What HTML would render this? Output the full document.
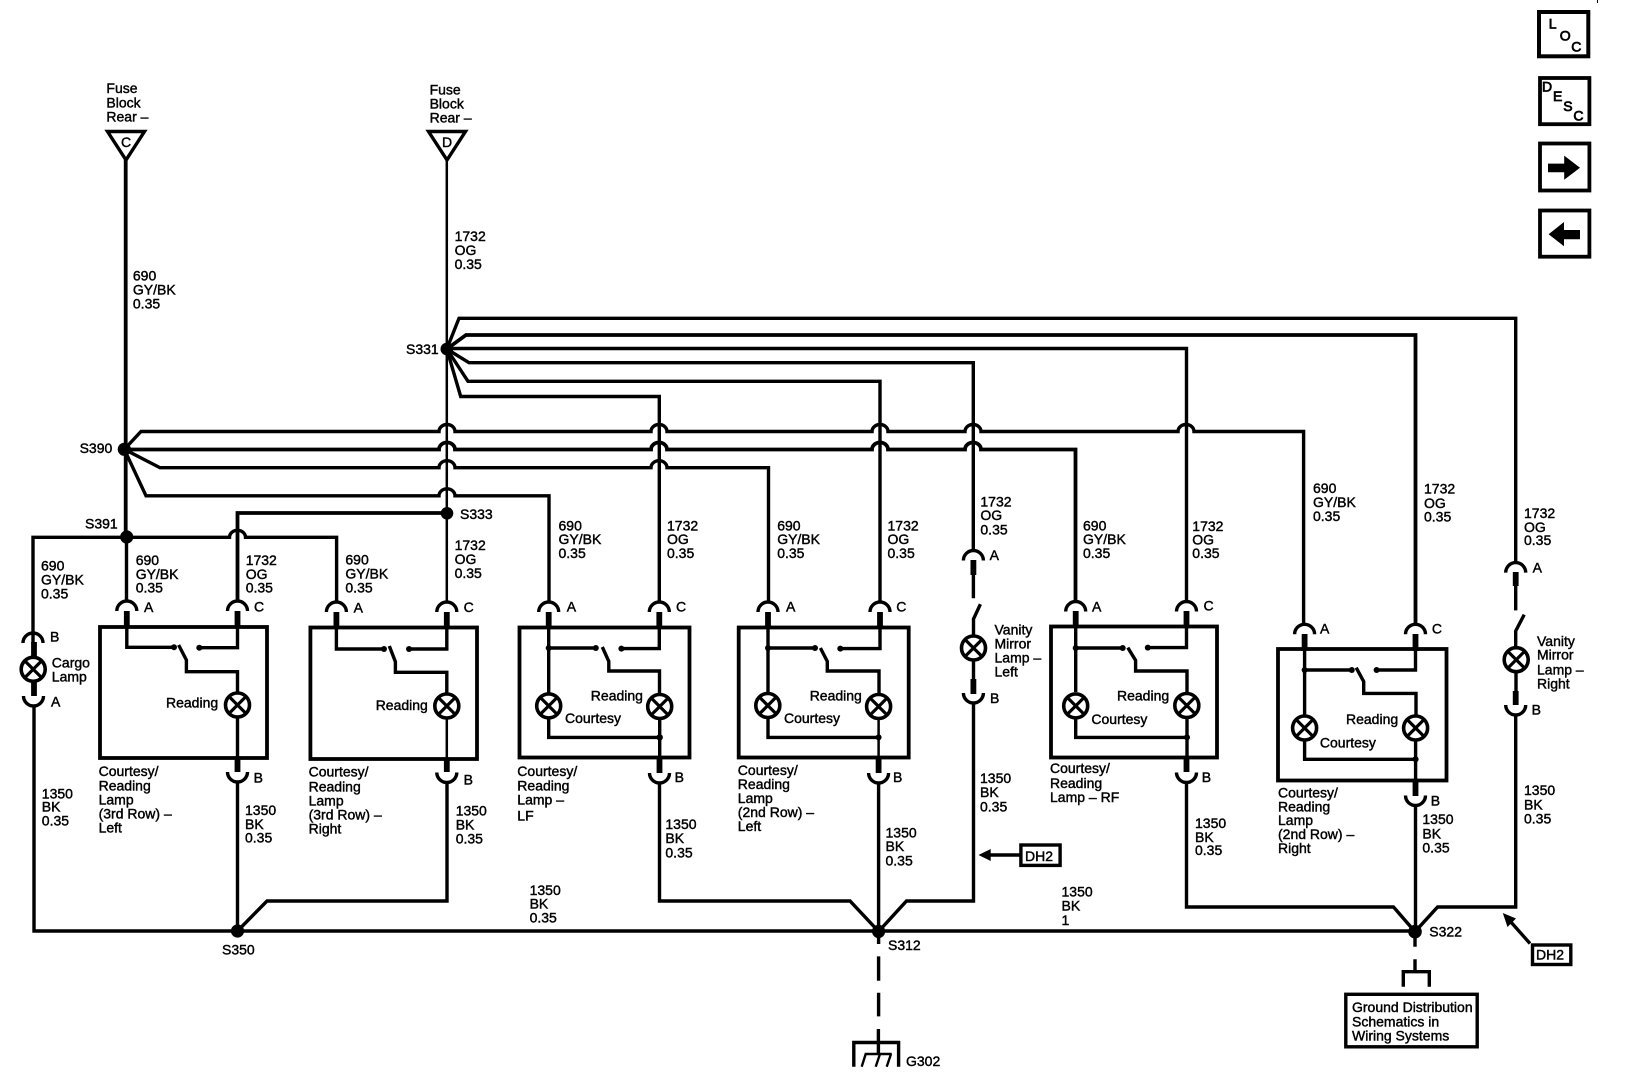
<!DOCTYPE html>
<html lang="en"><head><meta charset="utf-8"><title>Courtesy Lamp Schematic</title>
<style>
html,body{margin:0;padding:0;background:#fff}
svg{display:block}
text{font-family:"Liberation Sans",Arial,sans-serif;font-size:14px;fill:#000;stroke:#000;stroke-width:.42}
text.n{stroke-width:.75}
.w{fill:none;stroke:#000;stroke-width:3.4;stroke-linejoin:miter}
.t{fill:none;stroke:#000;stroke-width:2.5}
.k{fill:none;stroke:#000;stroke-width:5.8}
.b{fill:none;stroke:#000;stroke-width:3.8}
.d{fill:#000}
</style></head><body>
<svg xmlns="http://www.w3.org/2000/svg" width="1632" height="1084" viewBox="0 0 1632 1084">
<defs>
<g id="l"><circle r="12" fill="#fff" stroke="#000" stroke-width="3.6"/><path d="M-8.5-8.5L8.5 8.5M8.5-8.5L-8.5 8.5" stroke="#000" stroke-width="3.2" fill="none"/></g>
<path id="a" d="M-10 10A10 10 0 0 1 10 10" fill="none" stroke="#000" stroke-width="3.4"/>
<path id="u" d="M-10 0A10 10 0 0 0 10 0" fill="none" stroke="#000" stroke-width="3.4"/>
</defs>

<!-- Fuse triangles -->
<path class="w" d="M107.5 131.5H144.5L126 160ZM428.5 131.5H465.5L447 160Z"/>
<text x="106.4" y="93">Fuse</text><text x="106.4" y="107.5">Block</text><text x="106.4" y="121.7">Rear –</text>
<text x="429.6" y="94.3">Fuse</text><text x="429.6" y="108.5">Block</text><text x="429.6" y="122.7">Rear –</text>
<text x="121" y="147">C</text><text x="442" y="147">D</text>

<!-- main feeds -->
<path class="b" d="M125.7 160V537"/>
<path class="t" d="M446.8 160V602"/>
<text x="132.9" y="280.7">690</text><text x="132.9" y="294.3">GY/BK</text><text x="132.9" y="308.3">0.35</text>
<text x="454.6" y="241">1732</text><text x="454.6" y="255">OG</text><text x="454.6" y="269">0.35</text>

<!-- S331 branches -->
<path class="w" d="M446.8 349L459 318.3H1515.7V562.6"/>
<path class="b" d="M446.8 349L466 335H1415.5V624"/>
<path class="w" d="M446.8 348.5H1186.5V601.8"/>
<path class="w" d="M446.8 349L469 362.7H973.3V550.4"/>
<path class="w" d="M446.8 349L468 381.3H880V602"/>
<path class="w" d="M446.8 349L460.7 396.5H659.3V602"/>
<circle class="d" cx="446.8" cy="349" r="6.3"/>
<text x="406" y="354">S331</text>

<!-- S390 branches with hops -->
<path class="w" d="M124.3 449.3L141 431.5H439A8 7 0 0 1 455 431.5H651A8 7 0 0 1 667 431.5H872A8 7 0 0 1 888 431.5H965A8 7 0 0 1 981 431.5H1178A8 7 0 0 1 1194 431.5H1303.6V624"/>
<path class="b" d="M124.3 449.5H439A8 7 0 0 1 455 449.5H651A8 7 0 0 1 667 449.5H872A8 7 0 0 1 888 449.5H965A8 7 0 0 1 981 449.5H1075.5V602"/>
<path class="w" d="M124.3 449.3L160 467.7H439A8 7 0 0 1 455 467.7H651A8 7 0 0 1 667 467.7H768.5V602"/>
<path class="w" d="M124.3 449.3L146 495.8H439A8 7 0 0 1 455 495.8H549V602"/>
<circle class="d" cx="124.3" cy="449.3" r="6.6"/>
<text x="79.6" y="453">S390</text>

<!-- S333 / S391 -->
<path class="b" d="M447 513H237.5V601"/>
<circle class="d" cx="447" cy="513.3" r="6.3"/>
<text x="460" y="519">S333</text>
<path class="w" d="M33 645V537.3H229.5A8 7 0 0 1 245.5 537.3H336.6V602"/>
<path class="w" d="M126.5 537V601"/>
<circle class="d" cx="126.7" cy="537" r="6.6"/>
<text x="85" y="528.3">S391</text>

<!-- Cargo lamp -->
<use href="#a" x="33" y="633"/>
<path class="k" d="M34 642V657M34 682V696"/>
<use href="#l" x="33.2" y="669.3"/>
<use href="#u" x="33.5" y="696"/>
<text x="50" y="641.7">B</text><text x="51" y="706.7">A</text>
<text x="51.8" y="667.7">Cargo</text><text x="51.8" y="681.7">Lamp</text>
<text x="41" y="570.7">690</text><text x="41" y="584.3">GY/BK</text><text x="41" y="598.3">0.35</text>
<text x="41.8" y="798.3">1350</text><text x="41.8" y="811.7">BK</text><text x="41.8" y="825.7">0.35</text>

<!-- Ground bus -->
<path class="w" d="M34 705V931H1415"/>
<circle class="d" cx="237.5" cy="931" r="6.6"/>
<text x="222" y="954.3">S350</text>
<path class="w" d="M237.5 931L267 901H447V783"/>
<path class="w" d="M237.5 782V931"/>
<text x="529.6" y="895">1350</text><text x="529.6" y="908.3">BK</text><text x="529.6" y="922.7">0.35</text>
<text x="1061.5" y="896.7">1350</text><text x="1061.5" y="910.6">BK</text><text x="1061.5" y="925">1</text>

<!-- Box 1 -->
<rect class="b" x="100" y="627" width="167" height="131"/>
<use href="#a" x="126.8" y="601"/><use href="#a" x="237.5" y="601"/>
<path class="k" d="M126.8 611V628M237.5 611V628M237.5 757V772"/>
<path class="w" d="M126.8 628V647.3H174M199.3 647.7H237.5V628M178.6 645L186.4 660V671.7H237.5V692M237.5 718V760"/>
<circle class="d" cx="174" cy="647.3" r="3"/><circle class="d" cx="199.3" cy="647.7" r="3"/>
<use href="#l" x="237.5" y="705"/><use href="#u" x="237.5" y="772"/>
<text x="144" y="612">A</text><text x="254" y="611.3">C</text><text x="253.6" y="782.7">B</text>
<text x="166" y="707.7">Reading</text>
<text x="135.7" y="565">690</text><text x="135.7" y="579">GY/BK</text><text x="135.7" y="592.7">0.35</text>
<text x="245.7" y="565">1732</text><text x="245.7" y="579">OG</text><text x="245.7" y="592.7">0.35</text>
<text x="98.6" y="776">Courtesy/</text><text x="98.6" y="790.7">Reading</text><text x="98.6" y="804.3">Lamp</text><text x="98.6" y="818.3">(3rd Row) –</text><text x="98.6" y="832.7">Left</text>
<text x="245" y="815">1350</text><text x="245" y="829">BK</text><text x="245" y="842.7">0.35</text>

<!-- Box 2 -->
<rect class="b" x="310.4" y="627.5" width="166.6" height="131.5"/>
<use href="#a" x="336.4" y="602"/><use href="#a" x="446.8" y="602"/>
<path class="k" d="M336.4 612V629M446.8 612V629M446.8 758V772"/>
<path class="w" d="M336.4 629V649H384M409 649H446.8V629M389.3 646L395.4 661.7V672.3H446.8V693"/>
<path class="t" d="M446.8 719V760"/>
<circle class="d" cx="384" cy="649" r="3"/><circle class="d" cx="409" cy="649" r="3"/>
<use href="#l" x="446.8" y="706"/><use href="#u" x="446.8" y="772.5"/>
<text x="353.6" y="612.7">A</text><text x="463.6" y="612">C</text><text x="463.6" y="784.3">B</text>
<text x="375.7" y="710">Reading</text>
<text x="345.4" y="564.7">690</text><text x="345.4" y="578.3">GY/BK</text><text x="345.4" y="592.7">0.35</text>
<text x="454.6" y="550">1732</text><text x="454.6" y="564">OG</text><text x="454.6" y="578">0.35</text>
<text x="308.6" y="776.7">Courtesy/</text><text x="308.6" y="791.7">Reading</text><text x="308.6" y="805.7">Lamp</text><text x="308.6" y="819.3">(3rd Row) –</text><text x="308.6" y="833.3">Right</text>
<text x="455.7" y="815.7">1350</text><text x="455.7" y="829.3">BK</text><text x="455.7" y="843.3">0.35</text>

<!-- Box 3 (LF) -->
<rect class="b" x="519.5" y="627.5" width="170" height="130"/>
<use href="#a" x="548.7" y="602"/><use href="#a" x="659.3" y="602"/>
<path class="k" d="M548.7 612V629M659.3 612V629M659.5 757V773"/>
<path class="w" d="M548.7 629V693M548.7 648H595.8M621.4 648.6H659.3V629M602.3 647L608.8 661.4V671H659.5V693M548.7 719V737.4H659.7M659.7 719V760"/>
<circle class="d" cx="548.7" cy="648" r="3"/><circle class="d" cx="595.8" cy="648" r="3"/><circle class="d" cx="621.4" cy="648.6" r="3"/><circle class="d" cx="659.7" cy="737.4" r="3.2"/>
<use href="#l" x="548.7" y="705.9"/><use href="#l" x="659.7" y="706.5"/><use href="#u" x="659.5" y="773"/>
<text x="566.7" y="611.5">A</text><text x="676" y="611.5">C</text><text x="674.6" y="782.2">B</text>
<text x="590.8" y="700.7">Reading</text><text x="565" y="723.2">Courtesy</text>
<text x="558.5" y="530.7">690</text><text x="558.5" y="544">GY/BK</text><text x="558.5" y="558">0.35</text>
<text x="667" y="530.7">1732</text><text x="667" y="544">OG</text><text x="667" y="558">0.35</text>
<text x="517.3" y="776">Courtesy/</text><text x="517.3" y="790.5">Reading</text><text x="517.3" y="804.7">Lamp –</text><text x="517.3" y="820.4">LF</text>
<text x="665.4" y="829">1350</text><text x="665.4" y="843">BK</text><text x="665.4" y="857.5">0.35</text>
<path class="w" d="M659.5 783V901H850L878.6 931.4"/>

<!-- Box 4 -->
<rect class="b" x="738.7" y="627.5" width="170" height="130"/>
<use href="#a" x="768" y="602"/><use href="#a" x="880" y="602"/>
<path class="k" d="M768 612V629M880 612V629M878.6 757V773"/>
<path class="w" d="M768 629V692M768 648H815M840.3 648.6H880V629M820.4 648L827.3 661.4V671H879V693"/>
<path class="w" d="M768 719V737.4H878.6"/><path class="t" d="M878.6 719V760"/>
<circle class="d" cx="768" cy="648" r="3"/><circle class="d" cx="815" cy="648" r="3"/><circle class="d" cx="840.3" cy="648.6" r="3"/><circle class="d" cx="878.6" cy="737.4" r="3"/>
<use href="#l" x="767.8" y="705.5"/><use href="#l" x="878.6" y="706.5"/><use href="#u" x="878.6" y="773"/>
<text x="786" y="611.5">A</text><text x="896.2" y="611.5">C</text><text x="893" y="782">B</text>
<text x="809.7" y="700.7">Reading</text><text x="784" y="723">Courtesy</text>
<text x="777.2" y="530.7">690</text><text x="777.2" y="544">GY/BK</text><text x="777.2" y="558">0.35</text>
<text x="887.5" y="530.7">1732</text><text x="887.5" y="544">OG</text><text x="887.5" y="558">0.35</text>
<text x="737.8" y="775">Courtesy/</text><text x="737.8" y="789">Reading</text><text x="737.8" y="803">Lamp</text><text x="737.8" y="817">(2nd Row) –</text><text x="737.8" y="830.8">Left</text>
<text x="885.5" y="837.7">1350</text><text x="885.5" y="851.2">BK</text><text x="885.5" y="865.5">0.35</text>
<path class="w" d="M878.6 783V931"/>

<!-- S312 -->
<circle class="d" cx="878.6" cy="931.4" r="6.6"/>
<text x="888" y="950">S312</text>
<path class="w" d="M878.6 931V944M878.6 956.4V980.7M878.6 992.8V1016.4M878.4 1029V1054"/>
<path class="w" d="M853.8 1066.7V1042.5H898.6V1066.7"/>
<path fill="none" stroke="#000" stroke-width="2.4" d="M861.7 1066.7L865.7 1054H891.7M875.7 1066.7L880 1054M886.7 1066.7L891 1054"/>
<text x="906" y="1066">G302</text>

<!-- Vanity left -->
<use href="#a" x="973.4" y="550.5"/>
<path class="k" d="M973.4 560V575M973.4 679V694"/>
<path class="w" d="M973.4 575V598.3M980.4 604.2L973.5 619V636M973.5 660V680M973.5 703V901H906.5L878.6 931.4"/>
<use href="#l" x="973.5" y="648"/><use href="#u" x="973.4" y="693"/>
<text x="989.6" y="560">A</text><text x="990" y="703">B</text>
<text x="994.5" y="634.7">Vanity</text><text x="994.5" y="648.6">Mirror</text><text x="994.5" y="662.5">Lamp –</text><text x="994.5" y="676.4">Left</text>
<text x="980.4" y="506.7">1732</text><text x="980.4" y="520">OG</text><text x="980.4" y="534.3">0.35</text>
<text x="980" y="782.9">1350</text><text x="980" y="796.8">BK</text><text x="980" y="811.3">0.35</text>
<rect class="w" x="1020.9" y="845" width="39.2" height="20.4"/>
<text x="1025" y="861">DH2</text>
<path class="w" d="M1020 855H988"/><path class="d" d="M978.5 855L990.7 849V861Z"/>

<!-- Box 5 (RF) -->
<rect class="b" x="1051" y="626.5" width="166" height="131"/>
<use href="#a" x="1075.7" y="601.5"/><use href="#a" x="1186.5" y="601.5"/>
<path class="k" d="M1075.7 611V628M1186.5 611V628M1186.5 757V772"/>
<path class="w" d="M1075.7 628V692M1075.7 648H1122.7M1147.8 647.6H1186.5V628M1127.8 647.6L1135.6 660.4V671H1187V692M1075.7 719V737.4H1187M1187 719V760"/>
<circle class="d" cx="1075.7" cy="648" r="3"/><circle class="d" cx="1122.7" cy="648" r="3"/><circle class="d" cx="1147.8" cy="647.6" r="3"/><circle class="d" cx="1187" cy="737.4" r="3"/>
<use href="#l" x="1075.7" y="705.9"/><use href="#l" x="1186.8" y="705.5"/><use href="#u" x="1186.5" y="772.5"/>
<text x="1092" y="611.5">A</text><text x="1203.5" y="610.4">C</text><text x="1201.8" y="782">B</text>
<text x="1117" y="700.7">Reading</text><text x="1091.4" y="724">Courtesy</text>
<text x="1083" y="530.7">690</text><text x="1083" y="544">GY/BK</text><text x="1083" y="558">0.35</text>
<text x="1192.3" y="531">1732</text><text x="1192.3" y="544.5">OG</text><text x="1192.3" y="558">0.35</text>
<text x="1050" y="773.2">Courtesy/</text><text x="1050" y="788">Reading</text><text x="1050" y="802">Lamp – RF</text>
<text x="1195" y="828">1350</text><text x="1195" y="841.9">BK</text><text x="1195" y="855">0.35</text>
<path class="w" d="M1186.5 782V907H1393.5L1415 931.7"/>

<!-- Box 6 -->
<rect class="b" x="1278" y="649" width="168.5" height="131.5"/>
<use href="#a" x="1304.6" y="624.3"/><use href="#a" x="1415.5" y="624.3"/>
<path class="k" d="M1304.6 634V651M1415.5 634V651M1415.5 780V796"/>
<path class="w" d="M1304.6 651V715M1304.6 670H1351.8M1376.6 670H1415.5V651M1356.2 667.7L1363.7 681.6V693.4H1416V715M1304.6 741V759.3H1415.6M1415.6 741V782"/>
<circle class="d" cx="1304.6" cy="670" r="3"/><circle class="d" cx="1351.8" cy="670" r="3"/><circle class="d" cx="1376.6" cy="670" r="3"/><circle class="d" cx="1415.6" cy="759.3" r="3"/>
<use href="#l" x="1304.6" y="728"/><use href="#l" x="1415.6" y="728"/><use href="#u" x="1415.5" y="795.5"/>
<text x="1320" y="633.7">A</text><text x="1431.9" y="633.7">C</text><text x="1430.8" y="805.4">B</text>
<text x="1346" y="723.9">Reading</text><text x="1319.9" y="747.5">Courtesy</text>
<text x="1313" y="493">690</text><text x="1313" y="507.2">GY/BK</text><text x="1313" y="521">0.35</text>
<text x="1424" y="493.5">1732</text><text x="1424" y="508">OG</text><text x="1424" y="521.7">0.35</text>
<text x="1278" y="797.5">Courtesy/</text><text x="1278" y="811.3">Reading</text><text x="1278" y="825.2">Lamp</text><text x="1278" y="839">(2nd Row) –</text><text x="1278" y="853">Right</text>
<text x="1422.4" y="823.8">1350</text><text x="1422.4" y="838.4">BK</text><text x="1422.4" y="852.3">0.35</text>
<path class="w" d="M1415.5 805V931.7"/>

<!-- Vanity right -->
<use href="#a" x="1515.7" y="562.6"/>
<path class="k" d="M1515.7 572V586M1515.7 691V705"/>
<path class="w" d="M1515.7 586V610.4M1524.2 614.6L1515.7 631V647M1516 672V692M1515.7 714V907H1437.6L1415 931.7"/>
<use href="#l" x="1516.2" y="659.7"/><use href="#u" x="1515.7" y="705"/>
<text x="1532.6" y="572.3">A</text><text x="1531.6" y="714.5">B</text>
<text x="1537" y="645.8">Vanity</text><text x="1537" y="659.7">Mirror</text><text x="1537" y="674.3">Lamp –</text><text x="1537" y="688.5">Right</text>
<text x="1524" y="518">1732</text><text x="1524" y="532">OG</text><text x="1524" y="545">0.35</text>
<text x="1524" y="795">1350</text><text x="1524" y="809.6">BK</text><text x="1524" y="823.5">0.35</text>

<!-- S322 -->
<circle class="d" cx="1415" cy="931.7" r="6.8"/>
<text x="1429.3" y="936.7">S322</text>
<path class="w" d="M1415 931V946.7M1415 959.3V971.7M1403.3 986.7V971.7H1429.3V986.7"/>
<rect class="w" x="1345.8" y="994.3" width="131.4" height="52.5"/>
<text x="1352" y="1012">Ground Distribution</text><text x="1352" y="1026.4">Schematics in</text><text x="1352" y="1040.7">Wiring Systems</text>
<rect class="w" x="1532.5" y="945" width="38.3" height="19.5"/>
<text x="1536" y="959.5">DH2</text>
<path class="w" d="M1530 943.5L1510 921"/><path class="d" d="M1502.8 913L1516 918.5L1507.5 927Z"/>

<!-- Nav icons -->
<rect x="1539" y="12" width="49.3" height="44.3" fill="none" stroke="#000" stroke-width="4"/>
<text class="n" x="1548.7" y="28.3">L</text><text class="n" x="1559.7" y="40.7">O</text><text class="n" x="1571.3" y="51.7">C</text>
<rect class="b" x="1540" y="78" width="49.4" height="46.2"/>
<text class="n" x="1542" y="91.3">D</text><text class="n" x="1553" y="101">E</text><text class="n" x="1563.2" y="110.9">S</text><text class="n" x="1573.4" y="120.5">C</text>
<rect class="b" x="1540" y="143.5" width="49.4" height="47"/>
<path class="d" d="M1548 163.6H1564.2V155.6L1580 167.7L1564.2 179.8V172.2H1548Z"/>
<rect class="b" x="1540" y="210.5" width="49.4" height="46.2"/>
<path class="d" d="M1580 230H1564V222L1548.6 234.2L1564 246.2V239.3H1580Z"/>
<rect class="d" x="1597" y="0" width="1" height="3"/>
</svg>
</body></html>
